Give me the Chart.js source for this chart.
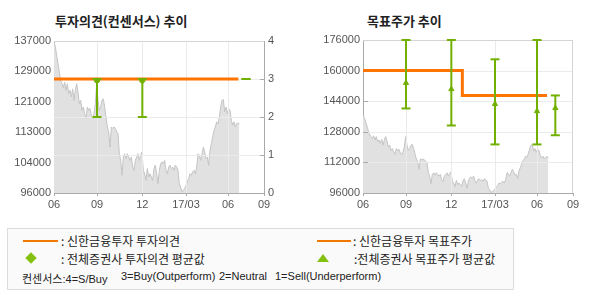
<!DOCTYPE html>
<html>
<head>
<meta charset="utf-8">
<script src="https://cdn.jsdelivr.net/npm/chart.js@4.4.1/dist/chart.umd.min.js"></script>
<style>
  body { margin:0; background:#fff; width:590px; height:300px; position:relative; overflow:hidden; }
  canvas { position:absolute; top:0; }
  .title { position:absolute; top:12px; font:bold 13px "Noto Sans CJK KR", sans-serif; color:#222; line-height:17px; white-space:nowrap; }
  .legend { position:absolute; left:7px; top:228px; width:505px; height:60px; border:1px solid #dcdcdc; background:#fafafa; }
  .legend div { position:absolute; font:12px "Noto Sans CJK KR", sans-serif; color:#222; line-height:14px; white-space:pre; }
  .legend div.note { font:11px "Liberation Sans", "Noto Sans CJK KR", sans-serif; top:41px; }
  .lg-line { height:2px; background:#f07800; }
</style>
</head>
<body>
<div class="title" style="left:55px">투자의견(컨센서스) 추이</div>
<div class="title" style="left:367px">목표주가 추이</div>
<canvas id="opinion" width="295" height="215" style="left:0"></canvas>
<canvas id="target" width="295" height="215" style="left:295px"></canvas>

<div class="legend">
  <div class="lg-line" style="left:15px;top:11px;width:35px"></div>
  <div style="left:53px;top:5px">: 신한금융투자 투자의견</div>
  <div class="lg-line" style="left:309px;top:11px;width:34px"></div>
  <div style="left:345px;top:5px">: 신한금융투자 목표주가</div>
  <div style="left:19px;top:25px;width:8px;height:8px;background:#84c10f;transform:rotate(45deg)"></div>
  <div style="left:53px;top:23px">: 전체증권사 투자의견 평균값</div>
  <div style="left:309px;top:25px;width:0;height:0;border-left:6px solid transparent;border-right:6px solid transparent;border-bottom:8px solid #84c10f"></div>
  <div style="left:346px;top:23px">:전체증권사 목표주가 평균값</div>
  <div class="note" style="left:14px">컨센서스:4=S/Buy</div>
  <div class="note" style="left:113px">3=Buy(Outperform)</div>
  <div class="note" style="left:211px">2=Neutral</div>
  <div class="note" style="left:267px">1=Sell(Underperform)</div>
</div>

<script>
// daily close, sampled ~every 2 trading days from 2016-06
const priceValues = [
  136700,135400,133100,130900,128600,126400,125500,124400,125900,123700,
  125500,122800,123700,121900,124100,121000,123700,125500,123200,120100,
  121000,118300,119200,117400,116100,119200,118300,118800,117000,116100,
  117400,120100,125500,121000,118300,119200,121000,121400,119200,116500,
  113800,112500,108400,113800,113400,113800,113400,112500,112000,106600,
  104800,100800,105700,106600,105300,106600,105700,104800,105700,103000,
  102100,104800,105700,106600,104800,106200,107100,102100,101200,99400,
  102600,100300,101200,100300,99400,102600,103500,101200,98500,102100,
  103900,104400,103900,104800,102100,101200,103000,103500,102600,103000,
  102100,103500,103000,102100,98500,97600,96300,96700,97200,98100,
  99000,99900,101200,100800,101700,102100,101200,103000,106600,106200,
  104800,106600,108400,107100,105300,105700,103500,107500,109300,111100,
  112900,113800,115200,114700,116500,119200,121000,121200,117900,119200,
  117400,118800,118300,115600,114300,115200,113800,114700,114900,114700
];

// x axis: sample index of each month label
const xTickAt = [0, 32.25, 66.25, 99, 130.5, 157.5];
const xTickLabels = ['06', '09', '12', '17/03', '06', '09'];

// left chart: price axis labels, opinion (1-4)
const priceTicksLeft = ['96000', '104000', '113000', '121000', '129000', '137000'];
const opinionX = [0, 138.25];
const opinionY = [3, 3];
const consX = [32.25, 66.25, 144];
const consLow = [2, 2, 3];
const consHigh = [3, 3, 3];
const consAvg = [2.95, 2.95, null];

// right chart: target price
const priceTicksRight = ['96000', '112000', '128000', '144000', '160000', '176000'];
const targetX = [0, 74.5, 74.5, 138];
const targetY = [160000, 160000, 147000, 147000];
const tgtX = [32.25, 66.25, 99, 130.5, 144.25];
const tgtLow = [140200, 131300, 121400, 121400, 126200];
const tgtHigh = [176000, 176000, 165900, 176000, 147000];
const tgtAvg = [153500, 150300, 142500, 138800, 140400];

const ORANGE = '#ff7300';
const GREEN = '#72b000';
const AXIS = '#aaaaaa';
const tickFont = { family: 'Liberation Sans', size: 11 };

function errorBars(xs, lo, hi) {
  let pts = [];
  for (let i = 0; i < xs.length; i++) {
    pts.push({ x: xs[i], y: lo[i] }, { x: xs[i], y: hi[i] }, { x: xs[i] + 0.01, y: null });
  }
  return pts;
}

// draws grid over the price area, plus top/right frame and inner tick marks
const overGrid = {
  id: 'overGrid',
  afterDatasetDraw(chart, args, opts) {
    if (args.index !== 0) return;
    const ctx = chart.ctx, a = chart.chartArea;
    const xs = chart.scales.x, gs = chart.scales[opts.axis];
    ctx.save();
    ctx.lineWidth = 1;
    ctx.strokeStyle = '#ebebeb';
    ctx.beginPath();
    xs.ticks.forEach(t => {
      if (t.value <= xs.min || t.value >= xs.max) return;
      const px = Math.round(xs.getPixelForValue(t.value)) + 0.5;
      ctx.moveTo(px, a.top); ctx.lineTo(px, a.bottom);
    });
    gs.ticks.forEach(t => {
      if (t.value <= gs.min || t.value >= gs.max) return;
      const py = Math.round(gs.getPixelForValue(t.value)) + 0.5;
      ctx.moveTo(a.left, py); ctx.lineTo(a.right, py);
    });
    ctx.stroke();
    ctx.strokeStyle = '#d4d4d4';
    ctx.beginPath();
    ctx.moveTo(a.left, a.top + 0.5); ctx.lineTo(a.right, a.top + 0.5);
    if (opts.frameRight) { ctx.moveTo(a.right - 0.5, a.top); ctx.lineTo(a.right - 0.5, a.bottom); }
    ctx.stroke();
    ctx.strokeStyle = AXIS;
    ctx.beginPath();
    gs.ticks.forEach(t => {
      if (t.value <= gs.min || t.value >= gs.max) return;
      const py = Math.round(gs.getPixelForValue(t.value)) + 0.5;
      if (opts.side === 'right') { ctx.moveTo(a.right - 4, py); ctx.lineTo(a.right, py); }
      else { ctx.moveTo(a.left, py); ctx.lineTo(a.left + 5, py); }
    });
    ctx.stroke();
    ctx.restore();
  }
};

function xAxis() {
  return {
    type: 'linear', min: 0, max: 157.5,
    afterBuildTicks: s => { s.ticks = xTickAt.map(v => ({ value: v })); },
    afterFit: s => { s.height = 22; },
    ticks: { callback: (v, i) => xTickLabels[i], autoSkip: false, maxRotation: 0, padding: 2, color: '#555', font: tickFont },
    grid: { drawOnChartArea: false, drawTicks: true, tickLength: 3, tickColor: AXIS },
    border: { color: AXIS }
  };
}

function priceDataset(axis) {
  return {
    type: 'line', yAxisID: axis, order: 10,
    data: priceValues.map((v, i) => ({ x: i, y: v })),
    borderColor: '#c4c4c4', borderWidth: 1, backgroundColor: '#e1e1e1',
    fill: 'start', pointRadius: 0, tension: 0
  };
}

new Chart(document.getElementById('opinion'), {
  type: 'line',
  data: {
    datasets: [
      priceDataset('y'),
      { yAxisID: 'y1', order: 3, data: opinionX.map((x, i) => ({ x: x, y: opinionY[i] })),
        borderColor: ORANGE, borderWidth: 3, pointRadius: 0, clip: false },
      { yAxisID: 'y1', order: 2, data: errorBars(consX, consLow, consHigh), spanGaps: false,
        borderColor: GREEN, borderWidth: 2, pointStyle: 'line', pointRadius: 4.5,
        pointBorderColor: GREEN, pointBorderWidth: 2, clip: false },
      { yAxisID: 'y1', order: 1, data: consX.map((x, i) => ({ x: x, y: consAvg[i] })), showLine: false,
        pointStyle: 'rectRot', pointRadius: 3, pointBackgroundColor: GREEN, pointBorderColor: GREEN, clip: false }
    ]
  },
  options: {
    responsive: false, animation: false, devicePixelRatio: 1,
    layout: { padding: { top: 41, left: 0, right: 0, bottom: 0 } },
    plugins: { legend: { display: false }, tooltip: { enabled: false },
      overGrid: { axis: 'y1', side: 'right', frameRight: false } },
    scales: {
      x: xAxis(),
      y: {
        position: 'left', min: 96000, max: 137000,
        afterBuildTicks: s => { s.ticks = priceTicksLeft.map((l, i) => ({ value: 96000 + i * 8200 })); },
        afterFit: s => { s.width = 54; },
        ticks: { callback: (v, i) => priceTicksLeft[i], padding: 3, color: '#555', font: tickFont },
        grid: { drawOnChartArea: false, drawTicks: false },
        border: { color: AXIS }
      },
      y1: {
        position: 'right', min: 0, max: 4,
        ticks: { stepSize: 1, padding: 4, color: '#555', font: tickFont },
        afterFit: s => { s.width = 31; },
        grid: { drawOnChartArea: false, drawTicks: false },
        border: { color: AXIS }
      }
    }
  },
  plugins: [overGrid]
});

new Chart(document.getElementById('target'), {
  type: 'line',
  data: {
    datasets: [
      priceDataset('y'),
      { order: 3, data: targetX.map((x, i) => ({ x: x, y: targetY[i] })),
        borderColor: ORANGE, borderWidth: 3, pointRadius: 0, clip: false },
      { order: 2, data: errorBars(tgtX, tgtLow, tgtHigh), spanGaps: false,
        borderColor: GREEN, borderWidth: 2, pointStyle: 'line', pointRadius: 4.5,
        pointBorderColor: GREEN, pointBorderWidth: 2, clip: false },
      { order: 1, data: tgtX.map((x, i) => ({ x: x, y: tgtAvg[i] })), showLine: false,
        pointStyle: 'triangle', pointRadius: 3, pointBackgroundColor: GREEN, pointBorderColor: GREEN, clip: false }
    ]
  },
  options: {
    responsive: false, animation: false, devicePixelRatio: 1,
    layout: { padding: { top: 40, left: 0, right: 17, bottom: 0 } },
    plugins: { legend: { display: false }, tooltip: { enabled: false },
      overGrid: { axis: 'y', side: 'left', frameRight: true } },
    scales: {
      x: xAxis(),
      y: {
        position: 'left', min: 96000, max: 176000,
        afterBuildTicks: s => { s.ticks = priceTicksRight.map(l => ({ value: Number(l) })); },
        afterFit: s => { s.width = 68; },
        ticks: { callback: (v, i) => priceTicksRight[i], padding: 3, color: '#555', font: tickFont },
        grid: { drawOnChartArea: false, drawTicks: false },
        border: { color: AXIS }
      }
    }
  },
  plugins: [overGrid]
});
</script>
</body>
</html>
